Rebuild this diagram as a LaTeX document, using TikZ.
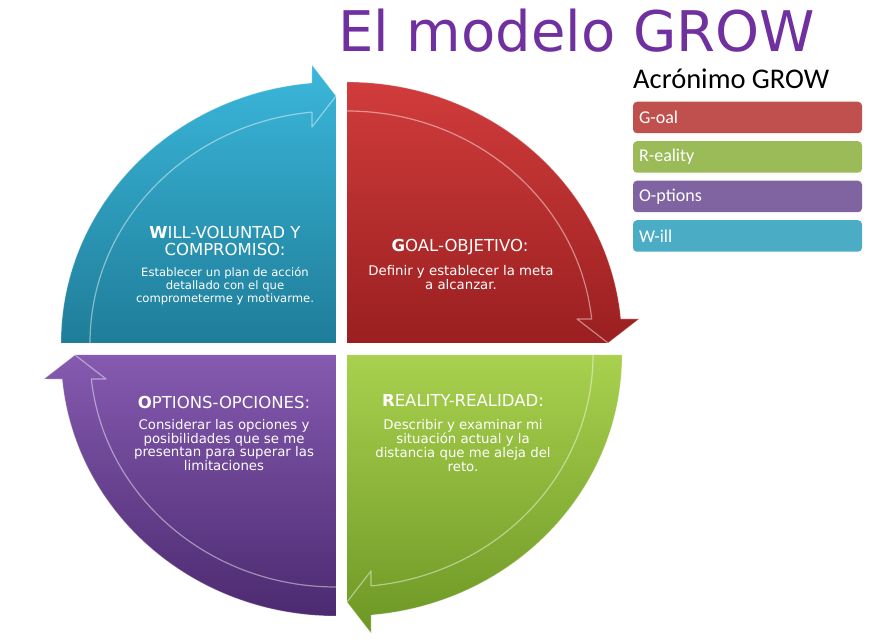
\documentclass[tikz,border=0pt]{standalone}
\usepackage{fontspec}
\newfontfamily\dv{DejaVu Sans}
\newfontfamily\carl{Carlito}
\definecolor{titlecol}{HTML}{7030A0}
\definecolor{redT}{HTML}{D13C3C}
\definecolor{redB}{HTML}{9A1F20}
\definecolor{bluT}{HTML}{3BB7DB}
\definecolor{bluB}{HTML}{1F7D99}
\definecolor{grnT}{HTML}{A9D14F}
\definecolor{grnB}{HTML}{6C9724}
\definecolor{purT}{HTML}{855AB0}
\definecolor{purB}{HTML}{4C2A70}
\definecolor{legG}{HTML}{C0504D}
\definecolor{legR}{HTML}{9BBB59}
\definecolor{legO}{HTML}{8064A2}
\definecolor{legW}{HTML}{4BACC6}
\begin{document}
\begin{tikzpicture}[x=1pt,y=1pt,
  hl/.style={white,opacity=0.45,line width=1.2pt,line join=round},
  ol/.style={white,opacity=0.3,line width=0.8pt,line join=round},
  headtxt/.style={font=\dv\fontsize{16.5}{17.5}\selectfont,text=white,align=center,inner sep=0pt},
  bodytxt/.style={font=\dv\fontsize{13.3}{13.7}\selectfont,text=white,align=center,inner sep=0pt},
  smallbody/.style={font=\dv\fontsize{11.6}{12.8}\selectfont,text=white,align=center,inner sep=0pt},
  legbox/.style={rounded corners=4pt,text width=217pt,inner xsep=6pt,inner ysep=0pt,
    minimum height=31.5pt,align=left,text=white,font=\carl\fontsize{18}{20}\selectfont}]
\fill[white] (0,0) rectangle (873,643);
\useasboundingbox (0,0) rectangle (873,643);

% ---- Red quadrant (Goal)
\begin{scope}[shift={(347,300)}]
  \shade[top color=redT,bottom color=redB] (0,0) -- (0,261)
    arc[start angle=90,end angle=5.28,x radius=275,y radius=261]
    -- (292,24) -- (261,0) -- cycle;
  \draw[hl] (0,232) arc[start angle=90,end angle=5.94,x radius=246,y radius=232]
    -- (230,24) -- (261,0);
  \draw[ol] (0,261) arc[start angle=90,end angle=5.28,x radius=275,y radius=261]
    -- (292,24) -- (261,0);
\end{scope}

% ---- Green quadrant (Reality)
\begin{scope}[shift={(347,288)}]
  \shade[top color=grnT,bottom color=grnB] (0,0) -- (275,0)
    arc[start angle=0,end angle=-84.99,x radius=275,y radius=261]
    -- (24,-278) -- (0,-247) -- cycle;
  \draw[hl] (246,0) arc[start angle=0,end angle=-84.40,x radius=246,y radius=232]
    -- (24,-216) -- (0,-247);
  \draw[ol] (275,0) arc[start angle=0,end angle=-84.99,x radius=275,y radius=261]
    -- (24,-278) -- (0,-247);
\end{scope}

% ---- Purple quadrant (Options)
\begin{scope}[shift={(336,288)}]
  \shade[top color=purT,bottom color=purB] (0,0) -- (0,-261)
    arc[start angle=270,end angle=185.28,x radius=275,y radius=261]
    -- (-292,-24) -- (-261,0) -- cycle;
  \draw[hl] (0,-232) arc[start angle=270,end angle=185.94,x radius=246,y radius=232]
    -- (-230,-24) -- (-261,0);
  \draw[ol] (0,-261) arc[start angle=270,end angle=185.28,x radius=275,y radius=261]
    -- (-292,-24) -- (-261,0);
\end{scope}

% ---- Blue quadrant (Will)
\begin{scope}[shift={(336,300)}]
  \shade[top color=bluT,bottom color=bluB] (0,0) -- (-275,0)
    arc[start angle=180,end angle=95.01,x radius=275,y radius=261]
    -- (-24,278) -- (0,247) -- cycle;
  \draw[hl] (-246,0) arc[start angle=180,end angle=95.6,x radius=246,y radius=232]
    -- (-24,216) -- (0,247);
  \draw[ol] (-275,0) arc[start angle=180,end angle=95.01,x radius=275,y radius=261]
    -- (-24,278) -- (0,247);
\end{scope}

% ---- Quadrant texts
\node[headtxt] (wh) at (225,402) {{\bfseries W}ILL-VOLUNTAD Y\\COMPROMISO:};
\node[smallbody] (wb) at (225,357) {Establecer un plan de acción\\detallado con el que\\comprometerme y motivarme.};
\node[headtxt] (gh) at (460,396) {{\bfseries G}OAL-OBJETIVO:};
\node[bodytxt] (gb) at (461,365.5) {Definir y establecer la meta\\a alcanzar.};
\node[headtxt] (rh) at (463,243) {{\bfseries R}EALITY-REALIDAD:};
\node[bodytxt] (rb) at (463,197.5) {Describir y examinar mi\\situación actual y la\\distancia que me aleja del\\reto.};
\node[headtxt] (oh) at (224,241) {{\bfseries O}PTIONS-OPCIONES:};
\node[bodytxt] (ob) at (224,198) {Considerar las opciones y\\posibilidades que se me\\presentan para superar las\\limitaciones};

% ---- Title and legend
\node[font=\dv\fontsize{56}{60}\selectfont,text=titlecol,anchor=base west,inner sep=0pt] (title) at (338,591) {El modelo GROW};
\node[font=\carl\fontsize{28.5}{31}\selectfont,anchor=base west,inner sep=0pt] (acr) at (633,554) {Acrónimo GROW};
\node[legbox,fill=legG] (lg) at (747.5,525.5) {G-oal};
\node[legbox,fill=legR] (lr) at (747.5,486) {R-eality};
\node[legbox,fill=legO] (lo) at (747.5,446.5) {O-ptions};
\node[legbox,fill=legW] (lw) at (747.5,407) {W-ill};
\end{tikzpicture}
\end{document}
